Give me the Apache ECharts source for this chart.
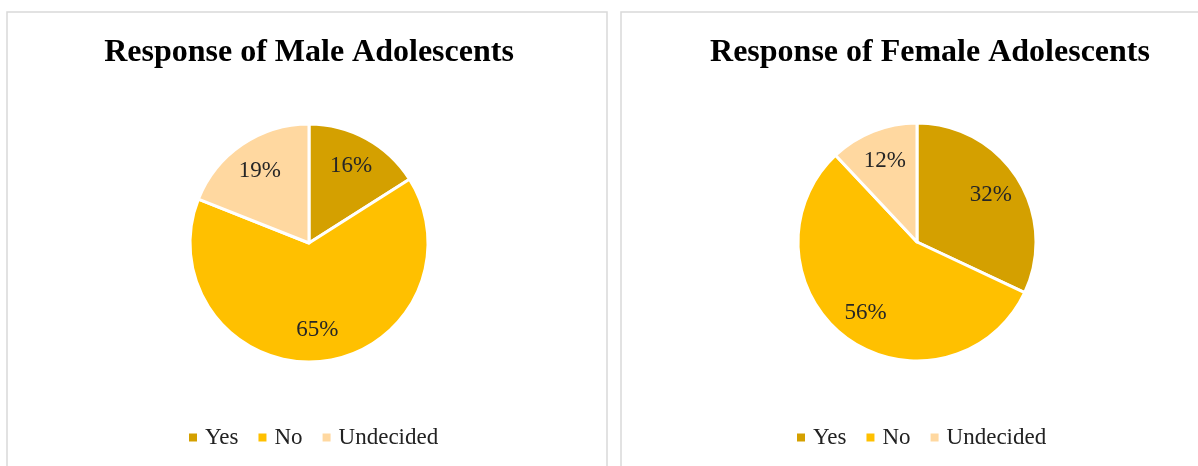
<!DOCTYPE html>
<html>
<head>
<meta charset="utf-8">
<script src="https://cdn.jsdelivr.net/npm/echarts@6/dist/echarts.min.js"></script>
<style>
html,body{margin:0;padding:0;background:#fff;}
#c{width:1198px;height:466px;}
</style>
</head>
<body>
<div id="c"></div>
<script>
const categories = ['Yes', 'No', 'Undecided'];
const maleValues = [16, 65, 19];
const femaleValues = [32, 56, 12];
const titles = ['Response of Male Adolescents', 'Response of Female Adolescents'];
const colors = ['#D4A000', '#FFC000', '#FFD8A0'];

const FONT = '"Liberation Serif", "Times New Roman", serif';
const chart = echarts.init(document.getElementById('c'));

function toData(vals) {
  return categories.map((n, i) => ({ name: n, value: vals[i] }));
}

function pieSeries(vals, center) {
  return [
    {
      type: 'pie',
      center: center,
      radius: [0, 119],
      startAngle: 90,
      clockwise: true,
      animation: false,
      data: toData(vals),
      itemStyle: { borderColor: '#fff', borderWidth: 3 },
      label: { show: false },
      labelLine: { show: false },
      emphasis: { disabled: true }
    },
    {
      type: 'pie',
      center: center,
      radius: [50, 119],
      startAngle: 90,
      clockwise: true,
      animation: false,
      silent: true,
      data: toData(vals),
      itemStyle: { color: 'rgba(0,0,0,0)', borderWidth: 0 },
      label: {
        show: true,
        position: 'inside',
        formatter: p => p.value + '%',
        fontFamily: FONT,
        fontSize: 23,
        color: '#262626'
      },
      labelLine: { show: false },
      emphasis: { disabled: true }
    }
  ];
}

function legend(left) {
  return {
    data: categories,
    left: left,
    top: 421,
    orient: 'horizontal',
    icon: 'rect',
    itemWidth: 8,
    itemHeight: 8,
    itemGap: 20,
    selectedMode: false,
    itemStyle: { borderWidth: 0 },
    textStyle: { fontFamily: FONT, fontSize: 23, color: '#222', padding: [0, 0, 0, 3] }
  };
}

chart.setOption({
  color: colors,
  animation: false,
  graphic: [
    { type: 'rect', shape: { x: 7, y: 12, width: 600, height: 470 }, style: { fill: 'none', stroke: '#D9D9D9', lineWidth: 1.5 }, z: -1 },
    { type: 'rect', shape: { x: 621, y: 12, width: 620, height: 470 }, style: { fill: 'none', stroke: '#D9D9D9', lineWidth: 1.5 }, z: -1 }
  ],
  title: [
    { text: titles[0], left: 304, top: 32, textAlign: 'center',
      textStyle: { fontFamily: FONT, fontWeight: 'bold', fontSize: 32, color: '#000' } },
    { text: titles[1], left: 925, top: 32, textAlign: 'center',
      textStyle: { fontFamily: FONT, fontWeight: 'bold', fontSize: 32, color: '#000' } }
  ],
  legend: [legend(184), legend(792)],
  series: [
    ...pieSeries(maleValues, [309, 243]),
    ...pieSeries(femaleValues, [917, 242])
  ]
});
</script>
</body>
</html>
